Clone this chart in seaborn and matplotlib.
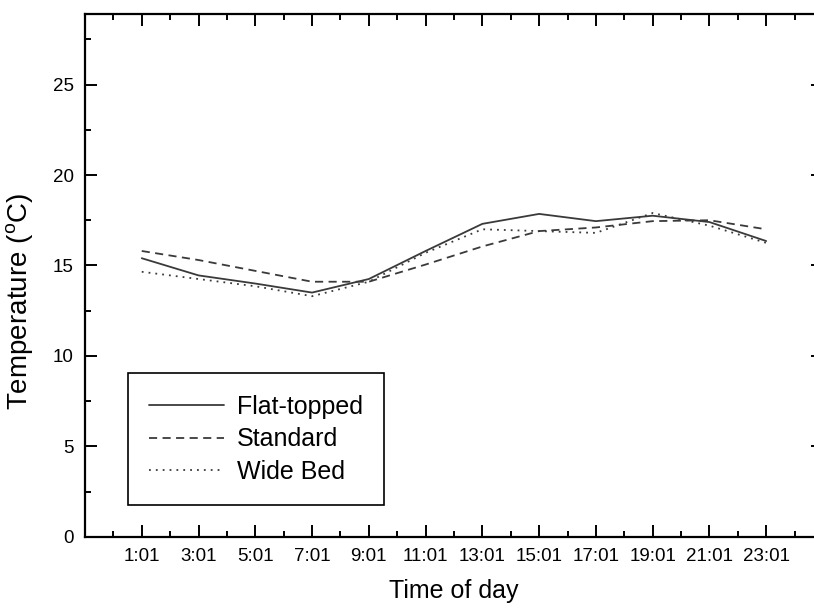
import pandas as pd
import matplotlib.pyplot as plt
import seaborn as sns
from matplotlib.ticker import MultipleLocator, FixedLocator

# Data
hours = [1, 3, 5, 7, 9, 11, 13, 15, 17, 19, 21, 23]
hour_labels = ['1:01', '3:01', '5:01', '7:01', '9:01', '11:01', '13:01',
               '15:01', '17:01', '19:01', '21:01', '23:01']
flat_topped = [15.4, 14.45, 14.0, 13.5, 14.25, 15.8, 17.3, 17.85, 17.45, 17.75, 17.4, 16.35]
standard = [15.8, 15.3, 14.7, 14.1, 14.1, 15.05, 16.05, 16.9, 17.1, 17.45, 17.5, 17.0]
wide_bed = [14.65, 14.25, 13.85, 13.3, 14.1, 15.7, 17.0, 16.9, 16.8, 17.9, 17.2, 16.25]

series_names = ['Flat-topped', 'Standard', 'Wide Bed']

df = pd.DataFrame({
    'hour': hours * 3,
    'temp': flat_topped + standard + wide_bed,
    'bed': [n for n in series_names for _ in hours],
})

sns.set_style('ticks')
plt.rcParams['font.family'] = ['Liberation Sans', 'DejaVu Sans']
plt.rcParams['mathtext.fontset'] = 'custom'
plt.rcParams['mathtext.rm'] = 'Liberation Sans'
plt.rcParams['text.color'] = 'black'
plt.rcParams['axes.labelcolor'] = 'black'
plt.rcParams['xtick.color'] = 'black'
plt.rcParams['ytick.color'] = 'black'

fig = plt.figure(figsize=(8.14, 6.12), dpi=100)
ax = fig.add_axes([0.1044, 0.123, 0.9066, 0.854])

line_color = '#3a3a3a'
sns.lineplot(
    data=df, x='hour', y='temp', hue='bed', style='bed',
    palette={n: line_color for n in series_names},
    dashes={'Flat-topped': '', 'Standard': (4.5, 3), 'Wide Bed': (1, 2.8)},
    linewidth=1.3, ax=ax, legend=True,
)

ax.set_xlim(-1, 25)
ax.set_ylim(0, 28.9)
ax.set_xticks(hours)
ax.set_xticklabels(hour_labels)
ax.xaxis.set_minor_locator(FixedLocator(list(range(0, 26, 2))))
ax.yaxis.set_major_locator(MultipleLocator(5))
ax.yaxis.set_minor_locator(MultipleLocator(2.5))

ax.tick_params(which='both', direction='in', top=True, right=True, width=1.4, color='black')
ax.tick_params(which='major', length=8.5, labelsize=13.5, pad=8)
ax.tick_params(which='minor', length=4.5)
for s in ax.spines.values():
    s.set_visible(True)
    s.set_linewidth(1.6)
    s.set_color('black')

ax.set_xlabel('Time of day', fontsize=18, labelpad=10)
ax.set_ylabel(r'Temperature ($\mathregular{^{o}}$C)', fontsize=20)
ax.yaxis.set_label_coords(-0.068, 0.45)

leg = ax.legend(
    loc='lower left', bbox_to_anchor=(0.058, 0.06), fontsize=18,
    handlelength=3.0, handletextpad=0.5, labelspacing=0.35,
    borderpad=0.85, borderaxespad=0, fancybox=False, frameon=True,
)
leg.get_frame().set_edgecolor('black')
leg.get_frame().set_linewidth(1.2)
leg.get_frame().set_alpha(1)

fig.savefig('out.png', dpi=100)
